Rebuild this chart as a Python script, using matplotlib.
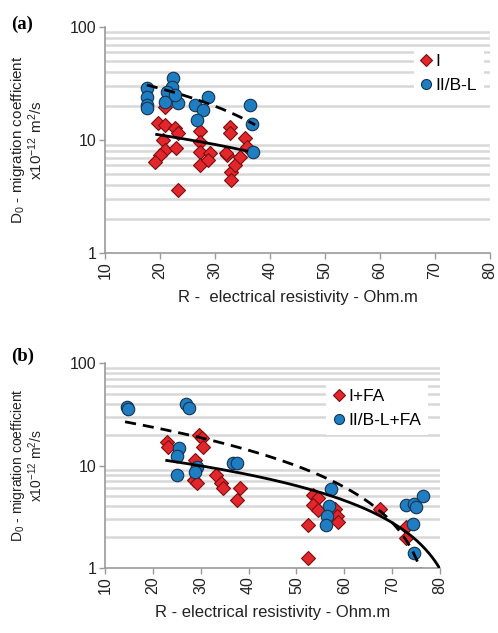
import numpy as np
import matplotlib
matplotlib.use("Agg")
import matplotlib.pyplot as plt
from matplotlib.ticker import LogLocator, FixedLocator, NullFormatter
# D0 migration coefficient vs electrical resistivity, two panels

plt.rcParams['font.family'] = ['Liberation Sans', 'DejaVu Sans']
plt.rcParams['mathtext.default'] = 'regular'

# panel (a) - series I
a_red_x = [19.7, 20.9, 22.7, 23.3, 20.6, 20.9, 20.0, 19.1, 23.0, 20.9, 23.3,
           27.3, 27.3, 27.3, 27.3, 29.1, 28.8, 32.7, 32.7, 32.1, 33.0, 33.0,
           33.6, 34.5, 35.5, 35.8, 32.0]
a_red_y = [14.1, 13.6, 12.7, 11.5, 10.0, 8.2, 7.4, 6.4, 8.5, 19.7, 3.6,
           11.9, 9.7, 7.9, 6.0, 7.6, 6.7, 13.1, 11.5, 7.4, 5.2, 4.4,
           6.0, 7.1, 10.4, 8.7, 7.6]
# panel (a) - series II/B-L
a_blue_x = [17.6, 17.6, 17.6, 17.6, 22.4, 22.1, 21.2, 20.9, 23.3, 22.7,
            26.4, 28.8, 27.9, 26.7, 36.4, 36.7, 37.0]
a_blue_y = [28.6, 24.2, 20.4, 19.1, 35.1, 29.6, 26.8, 21.8, 21.1, 25.0,
            20.4, 24.2, 18.4, 15.0, 20.4, 13.8, 7.9]

# panel (b) - series I+FA
b_red_x = [22.9, 23.2, 29.7, 30.2, 30.5, 28.8, 28.5, 29.2, 33.3, 34.2, 34.7,
           38.2, 37.5, 53.4, 54.6, 53.5, 54.6, 52.5, 52.5, 58.1, 58.4, 58.7,
           67.5, 73.0, 72.9]
b_red_y = [17.1, 15.2, 19.9, 18.4, 15.2, 11.3, 7.2, 6.7, 8.1, 6.7, 6.1,
           6.1, 4.6, 5.2, 4.8, 4.1, 3.7, 2.6, 1.24, 3.8, 3.2, 2.8,
           3.8, 2.5, 1.95]
# panel (b) - series II/B-L+FA
b_blue_x = [14.5, 14.9, 26.9, 27.6, 25.5, 25.0, 25.1, 29.2, 28.8, 36.7, 37.5,
            57.2, 56.9, 56.3, 56.2, 73.0, 74.6, 75.0, 76.4, 74.4, 74.6]
b_blue_y = [37.5, 35.3, 39.8, 36.1, 14.7, 12.4, 8.1, 9.7, 8.7, 10.6, 10.5,
            5.9, 4.0, 3.2, 2.6, 4.1, 4.2, 3.9, 5.0, 2.7, 1.39]

# trend lines: polynomial coefficients (highest order first) and x range
a_red_fit, a_red_rng = [-0.195, 14.98], (19.4, 35.8)
a_blue_fit, a_blue_rng = [-0.868, 45.98], (17.6, 37.3)
b_red_fit, b_red_rng = [-0.179, 15.3], (22.9, 80.0)
b_blue_fit, b_blue_rng = [0.00199, -0.5963, 34.77], (14.2, 76.0)

x_ticks = [10, 20, 30, 40, 50, 60, 70, 80]
y_ticks = [1, 10, 100]

RED, RED_EDGE = '#e3262b', '#7a0d0d'
BLUE, BLUE_EDGE = '#1f7ec2', '#15324f'
AXIS = '#9a9a9a'
TXT = '#222222'


def panel(ax, rx, ry, bx, by, rfit, rrng, bfit, brng, labels, xlabel,
          leg_pos, ylab_x, ylab_size):
    ax.set_yscale('log')
    ax.set_xlim(10, 80)
    ax.set_ylim(1, 100)
    ax.yaxis.set_minor_locator(LogLocator(base=10, subs=np.arange(2, 10)))
    ax.yaxis.set_minor_formatter(NullFormatter())
    ax.yaxis.set_major_locator(FixedLocator(y_ticks))
    ax.set_yticklabels([str(v) for v in y_ticks])
    ax.set_xticks(x_ticks)
    ax.set_xticklabels([str(v) for v in x_ticks], rotation=90)
    ax.grid(True, which='minor', axis='y', color='#d8d8d8', lw=1.8)
    ax.grid(False, which='major')
    ax.tick_params(which='minor', length=0)
    ax.tick_params(which='major', length=4, width=1, color=AXIS,
                   labelsize=11.5, labelcolor=TXT, pad=2)
    for s in ('top', 'right'):
        ax.spines[s].set_visible(False)
    for s in ('left', 'bottom'):
        ax.spines[s].set_color(AXIS)
        ax.spines[s].set_linewidth(1.2)

    ax.plot(rx, ry, 'D', ms=7.5, mfc=RED, mec=RED_EDGE, mew=0.8,
            label=labels[0], zorder=3)
    ax.plot(bx, by, 'o', ms=9, mfc=BLUE, mec=BLUE_EDGE, mew=0.8,
            label=labels[1], zorder=3)

    xs = np.linspace(rrng[0], rrng[1], 200)
    ax.plot(xs, np.polyval(rfit, xs), color='black', lw=2, zorder=4)
    xs = np.linspace(brng[0], brng[1], 200)
    yb = np.polyval(bfit, xs)
    xs, yb = xs[yb > 0], yb[yb > 0]
    ax.plot(xs, yb, color='black', lw=2, dashes=(4, 2.5), zorder=4)

    ax.set_xlabel(xlabel, fontsize=12, color=TXT, labelpad=8)
    ax.set_ylabel('D$_0$ - migration coefficient\nx10$^{-12}$ m$^2$/s',
                  fontsize=ylab_size, color=TXT, linespacing=1.0)
    ax.yaxis.set_label_coords(ylab_x, 0.5)
    leg = ax.legend(loc='upper left', bbox_to_anchor=leg_pos, frameon=True,
                    fancybox=False, framealpha=1, edgecolor='white',
                    fontsize=12.5, handlelength=0.6, handletextpad=0.25,
                    borderpad=0.4, labelspacing=0.5, markerscale=0.8)
    leg.get_frame().set_linewidth(0)


fig = plt.figure(figsize=(4.98, 6.33), dpi=100)
ax1 = fig.add_axes([0.2108, 0.6003, 0.7732, 0.3570])
ax2 = fig.add_axes([0.2108, 0.1027, 0.6727, 0.3238])

panel(ax1, a_red_x, a_red_y, a_blue_x, a_blue_y, a_red_fit, a_red_rng,
      a_blue_fit, a_blue_rng, ['I', 'II/B-L'],
      'R -  electrical resistivity - Ohm.m', (0.78, 0.95), -0.155, 11)
panel(ax2, b_red_x, b_red_y, b_blue_x, b_blue_y, b_red_fit, b_red_rng,
      b_blue_fit, b_blue_rng, ['I+FA', 'II/B-L+FA'],
      'R - electrical resistivity - Ohm.m', (0.635, 0.95), -0.178, 10)

fig.text(0.022, 0.975, '(a)', fontsize=13.5, fontweight='bold',
         family='Liberation Serif', va='top')
fig.text(0.022, 0.450, '(b)', fontsize=13.5, fontweight='bold',
         family='Liberation Serif', va='top')

fig.savefig('out.png', dpi=100)
